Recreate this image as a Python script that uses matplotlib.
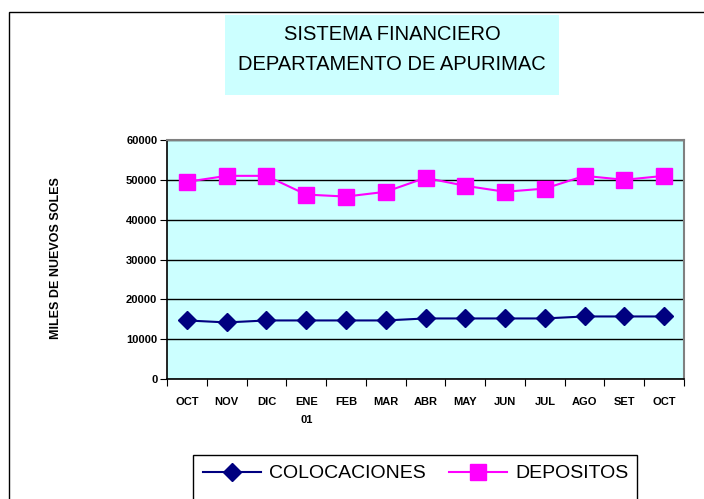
import matplotlib.pyplot as plt
from matplotlib.patches import Rectangle
import numpy as np

months = ["OCT", "NOV", "DIC", "ENE\n01", "FEB", "MAR", "ABR", "MAY", "JUN", "JUL", "AGO", "SET", "OCT"]
colocaciones = [14700, 14200, 14700, 14700, 14700, 14700, 15200, 15200, 15200, 15200, 15700, 15700, 15700]
depositos = [49500, 51000, 51000, 46300, 45800, 47000, 50500, 48500, 47000, 47800, 51000, 50000, 51000]
yticks = [0, 10000, 20000, 30000, 40000, 50000, 60000]

plt.rcParams['font.family'] = ['Liberation Sans', 'DejaVu Sans']

fig = plt.figure(figsize=(7.04, 4.99), dpi=100)
W, H = 704, 499

# outer chart frame
fig.patches.append(Rectangle((9 / W, -0.1), 1.2, 1.1 - 12 / H, transform=fig.transFigure,
                             fill=False, edgecolor="black", linewidth=1.0))

# title box
fig.patches.append(Rectangle((225 / W, 1 - 95 / H), (559 - 225) / W, 80 / H,
                             transform=fig.transFigure, facecolor="#ccffff", edgecolor="none"))
fig.text(392 / W, 1 - 34 / H, "SISTEMA FINANCIERO", ha="center", va="center", fontsize=14.5)
fig.text(392 / W, 1 - 65 / H, "DEPARTAMENTO DE APURIMAC", ha="center", va="center", fontsize=14.5)

ax = fig.add_axes([167 / W, 1 - 379 / H, (684 - 167) / W, (379 - 140) / H])
ax.set_facecolor("#ccffff")

x = np.arange(len(months))
ax.plot(x, colocaciones, color="#000080", marker="D", markersize=9, linewidth=1.5,
        label="COLOCACIONES")
ax.plot(x, depositos, color="#ff00ff", marker="s", markersize=11, linewidth=1.5,
        label="DEPOSITOS")

ax.set_xlim(-0.5, len(months) - 0.5)
ax.set_ylim(0, 60000)
ax.set_yticks(yticks)
ax.set_yticklabels([str(v) for v in yticks], fontsize=8, fontweight="bold")
ax.yaxis.grid(True, color="black", linewidth=1.0)
ax.set_axisbelow(True)

ax.set_xticks(np.arange(len(months) + 1) - 0.5)
ax.set_xticklabels([])
ax.set_xticks(x, minor=True)
ax.set_xticklabels(months, minor=True, fontsize=8, fontweight="bold", linespacing=2.0)
ax.tick_params(axis="x", which="minor", length=0, pad=13)
ax.tick_params(axis="x", which="major", length=5, direction="out", color="black")
ax.tick_params(axis="y", length=5, direction="out", pad=2)

for s in ["left", "bottom"]:
    ax.spines[s].set_color("black")
    ax.spines[s].set_linewidth(1.2)
for s in ["top", "right"]:
    ax.spines[s].set_color("#808080")
    ax.spines[s].set_linewidth(1.5)

fig.text(56 / W, 1 - 258 / H, "MILES DE NUEVOS SOLES", rotation=90, ha="center", va="center",
         fontsize=9, fontweight="bold")

# legend box runs off the bottom edge like the original
fig.patches.append(Rectangle((193 / W, -0.05), (637 - 193) / W, 0.05 + 1 - 455 / H,
                             transform=fig.transFigure, fill=False, edgecolor="black",
                             linewidth=1.0))
leg = fig.legend(loc="upper left", bbox_to_anchor=(193 / W, 1 - 455 / H), ncol=2,
                 fontsize=14, frameon=False,
                 handlelength=3.0, columnspacing=1.2, handletextpad=0.4, borderpad=0.5,
                 borderaxespad=0)

fig.savefig("out.png", dpi=100)
